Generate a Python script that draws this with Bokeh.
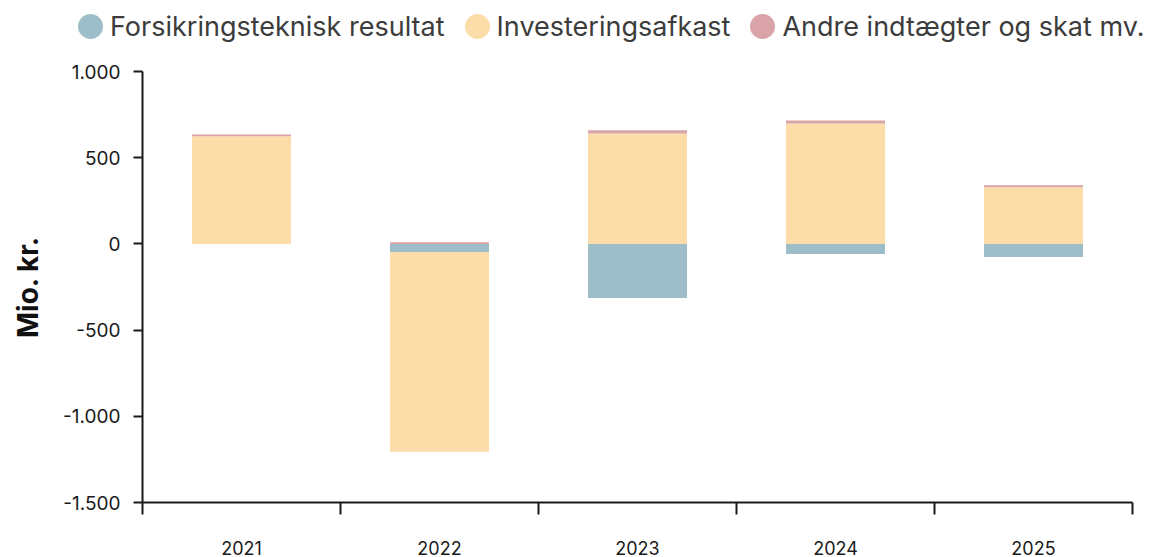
from bokeh.plotting import figure
from bokeh.layouts import column
from bokeh.models import Range1d, FixedTicker, Legend, LegendItem, ColumnDataSource
from bokeh.embed import file_html
from bokeh.resources import INLINE

years = ["2021", "2022", "2023", "2024", "2025"]
forsikring = [0, -47, -314, -59, -76]
investering = [624, -1158, 641, 699, 328]
andre = [11, 10, 18, 17, 12]

series_names = ["Forsikringsteknisk resultat", "Investeringsafkast", "Andre indtægter og skat mv."]
series_values = [forsikring, investering, andre]
colors = ["#9dbdc9", "#fcdca8", "#d9a3a8"]

y_ticks = [-1500, -1000, -500, 0, 500, 1000]
y_tick_labels = ["-1.500", "-1.000", "-500", "0", "500", "1.000"]

FONT = "Inter"
W = 1149
TOP_H = 46
MAIN_H = 557 - TOP_H

# ---- legend strip ----
lg = figure(width=W, height=TOP_H, output_backend="svg", toolbar_location=None,
            x_range=Range1d(0, 1), y_range=Range1d(0, 1),
            x_axis_location=None, y_axis_location=None,
            min_border_left=0, min_border_right=0,
            min_border_top=0, min_border_bottom=0)
lg.frame_align = False
lg.outline_line_color = None
lg.xgrid.grid_line_color = None
lg.ygrid.grid_line_color = None

nan = float("nan")
items = []
for name, col in zip(series_names, colors):
    r = lg.scatter(x=[nan], y=[nan], marker="circle", fill_color=col,
                   line_color=col, line_width=9)
    items.append(LegendItem(label=name, renderers=[r]))

legend = Legend(items=items, orientation="horizontal", location=(70, 0),
                glyph_width=40, glyph_height=40, label_standoff=0, spacing=12,
                padding=0, margin=0, border_line_color=None, background_fill_alpha=0,
                label_text_font=FONT, label_text_font_size="27px", label_text_color="#3c3c3c")
lg.add_layout(legend, "center")

# ---- main chart ----
p = figure(width=W, height=MAIN_H, output_backend="svg", toolbar_location=None,
           x_range=Range1d(0, len(years)), y_range=Range1d(-1500, 1000),
           min_border_left=142, min_border_right=17, min_border_top=71 - TOP_H,
           min_border_bottom=54)
p.frame_align = False
p.outline_line_color = None
p.xgrid.grid_line_color = None
p.ygrid.grid_line_color = None
p.background_fill_color = "white"

xc = [i + 0.5 for i in range(len(years))]
pos_base = [0.0] * len(years)
neg_base = [0.0] * len(years)
for name, vals, col in zip(series_names, series_values, colors):
    bottoms, tops = [], []
    for i, v in enumerate(vals):
        if v >= 0:
            bottoms.append(pos_base[i]); tops.append(pos_base[i] + v); pos_base[i] += v
        else:
            bottoms.append(neg_base[i]); tops.append(neg_base[i] + v); neg_base[i] += v
    src = ColumnDataSource(dict(x=xc, bottom=bottoms, top=tops))
    p.vbar(x="x", width=0.5, bottom="bottom", top="top", source=src,
           fill_color=col, line_color=None)

# y axis
p.yaxis.ticker = FixedTicker(ticks=y_ticks)
p.yaxis.major_label_overrides = {t: l for t, l in zip(y_ticks, y_tick_labels)}
p.yaxis.minor_tick_line_color = None
p.yaxis.major_tick_out = 9
p.yaxis.major_tick_in = 0
p.yaxis.major_label_standoff = 13
p.yaxis.axis_line_width = 2
p.yaxis.major_tick_line_width = 2
p.yaxis.axis_line_color = "#1a1a1a"
p.yaxis.major_tick_line_color = "#1a1a1a"
p.yaxis.major_label_text_font = FONT
p.yaxis.major_label_text_font_size = "19px"
p.yaxis.major_label_text_color = "#1a1a1a"
p.yaxis.axis_label = "Mio. kr."
p.yaxis.axis_label_text_font = FONT
p.yaxis.axis_label_text_font_size = "28px"
p.yaxis.axis_label_text_font_style = "bold"
p.yaxis.axis_label_text_color = "#111111"
p.yaxis.axis_label_standoff = 15

# x axis
p.xaxis.ticker = FixedTicker(ticks=xc, minor_ticks=list(range(len(years) + 1)))
p.xaxis.major_label_overrides = {x: y for x, y in zip(xc, years)}
p.xaxis.major_tick_out = 0
p.xaxis.major_tick_in = 0
p.xaxis.minor_tick_out = 12
p.xaxis.minor_tick_in = 0
p.xaxis.minor_tick_line_width = 2
p.xaxis.minor_tick_line_color = "#1a1a1a"
p.xaxis.axis_line_width = 2
p.xaxis.axis_line_color = "#1a1a1a"
p.xaxis.major_label_standoff = 26
p.xaxis.major_label_text_font = FONT
p.xaxis.major_label_text_font_size = "18px"
p.xaxis.major_label_text_color = "#1a1a1a"

layout = column(lg, p, spacing=0)
open("out.html", "w").write(file_html(layout, INLINE))
